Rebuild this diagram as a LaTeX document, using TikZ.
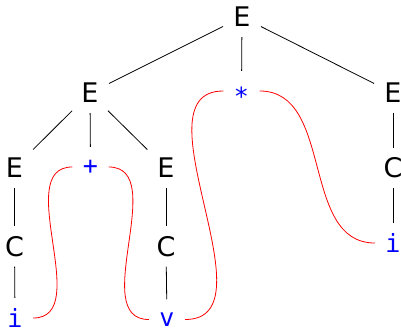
\documentclass[tikz,border=0pt]{standalone}
\usepackage{fontspec}
\setmainfont{DejaVu Sans}
\newfontfamily\monof{DejaVu Sans Mono}
\begin{document}
\begin{tikzpicture}[x=1pt,y=1pt,
  nt/.style={circle, inner sep=0pt, minimum size=36pt, font=\fontsize{27}{27}\selectfont},
  tm/.style={circle, inner sep=0pt, minimum size=36pt, text=blue, font=\monof\fontsize{25}{25}\selectfont},
  tmstar/.style={tm, text height=29.3pt, text depth=0pt},
  edge/.style={line width=0.8pt, shorten <=2pt, shorten >=2pt},
  farEdge/.style={edge, shorten <=7pt, shorten >=8pt},
  link/.style={red, line width=0.8pt}]
\useasboundingbox (0,0) rectangle (401,329);
% nodes
\node[nt] (root) at (242,312) {E};
\node[nt] (lE) at (90,236) {E};
\node[tmstar] (star) at (241.5,238) {*};
\node[nt] (rE) at (393,236) {E};
\node[nt] (llE) at (14.5,161) {E};
\node[tm] (plus) at (90.5,162) {+};
\node[nt] (mE) at (166,161) {E};
\node[nt] (rC) at (393,161) {C};
\node[nt] (llC) at (14.5,82.5) {C};
\node[nt] (mC) at (166,82.5) {C};
\node[tm] (ri) at (393,86) {i};
\node[tm] (li) at (15,11) {i};
\node[tm] (v) at (167,9.5) {v};
% tree edges
\draw[edge, shorten <=3pt, shorten >=3pt] (root) -- (lE);
\draw[edge] (root) -- (star);
\draw[edge, shorten <=3pt, shorten >=3pt] (root) -- (rE);
\draw[farEdge] (lE) -- (llE);
\draw[edge] (lE) -- (plus);
\draw[farEdge] (lE) -- (mE);
\draw[edge] (rE) -- (rC);
\draw[edge] (rC) -- (ri);
\draw[edge] (llE) -- (llC);
\draw[edge] (llC) -- (li);
\draw[edge] (mE) -- (mC);
\draw[edge] (mC) -- (v);
% red links
\draw[link] (li.east) to[out=0,in=180] (plus.west);
\draw[link] (plus.east) to[out=0,in=180] (v.west);
\draw[link] (v.east) to[out=0,in=180] (star.west);
\draw[link] (star.east) to[out=0,in=180] (ri.west);
\end{tikzpicture}
\end{document}
